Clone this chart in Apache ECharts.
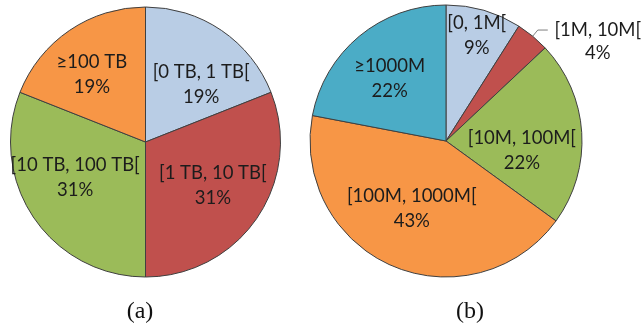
<!DOCTYPE html>
<html>
<head>
<meta charset="utf-8">
<script src="https://cdn.jsdelivr.net/npm/echarts@6/dist/echarts.min.js"></script>
<style>
  html, body { margin: 0; padding: 0; background: #ffffff; }
  #chart { width: 642px; height: 324px; }
</style>
</head>
<body>
<div id="chart"></div>
<script>
// (a) share by capacity range
const capacityCategories = ['[0 TB, 1 TB[', '[1 TB, 10 TB[', '[10 TB, 100 TB[', '≥100 TB'];
const capacityShares = [19, 31, 31, 19];

// (b) share by size range
const sizeCategories = ['[0, 1M[', '[1M, 10M[', '[10M, 100M[', '[100M, 1000M[', '≥1000M'];
const sizeShares = [9, 4, 22, 43, 22];

const panelCaptions = ['(a)', '(b)'];

// ---- styling / layout ----
const capacityColors = ['#B9CDE5', '#C0504D', '#9BBB59', '#F79646'];
const sizeColors = ['#B9CDE5', '#C0504D', '#9BBB59', '#F79646', '#4BACC6'];
const labelFont = 'Lato';
const labelSize = 18.5;
const labelLineHeight = 25;
const labelColor = '#1c1c1c';

// label nudges (px) applied on top of the default inside position
const capacityNudges = [[16, 1], [9, 4], [-12, -4], [-14, -9]];
const sizeNudges = [[11, -37], null, [5, 14], [-6, 2], [-11, -8]];
// slices whose label sits outside with a leader line
const sizeOutside = [false, true, false, false, false];

function nudgeLayout(nudges) {
  return function (p) {
    const n = nudges[p.dataIndex];
    if (!n) return {};
    const r = p.labelRect;
    return { x: r.x + r.width / 2 + n[0], y: r.y + r.height / 2 + n[1] };
  };
}

function buildData(names, values, colors, outside) {
  return names.map(function (name, i) {
    const item = { name: name, value: values[i], itemStyle: { color: colors[i] } };
    if (outside && outside[i]) {
      item.label = {
        position: 'outside',
        padding: [23, 0, 0, 0],
        formatter: '{c|' + name + '}\n{c|' + values[i] + '%}',
        rich: { c: { width: 90, align: 'center', lineHeight: 23, fontSize: labelSize, fontFamily: labelFont, color: labelColor } }
      };
      item.labelLine = { show: true, length: 8, length2: 10, lineStyle: { color: '#7f7f7f', width: 1 } };
    }
    return item;
  });
}

function pieSeries(center, radius, data, nudges) {
  return {
    type: 'pie',
    center: center,
    radius: radius,
    startAngle: 90,
    clockwise: true,
    avoidLabelOverlap: false,
    silent: true,
    animation: false,
    emphasis: { disabled: true },
    itemStyle: { borderColor: '#404040', borderWidth: 1 },
    label: {
      show: true,
      position: 'inside',
      formatter: '{b}\n{c}%',
      fontFamily: labelFont,
      fontSize: labelSize,
      lineHeight: labelLineHeight,
      color: labelColor
    },
    labelLine: { show: false },
    labelLayout: nudgeLayout(nudges),
    data: data
  };
}

const chart = echarts.init(document.getElementById('chart'), null, { renderer: 'canvas' });
chart.setOption({
  backgroundColor: '#ffffff',
  animation: false,
  series: [
    pieSeries([145.5, 142], 135, buildData(capacityCategories, capacityShares, capacityColors), capacityNudges),
    pieSeries([446, 141], 136, buildData(sizeCategories, sizeShares, sizeColors, sizeOutside), sizeNudges)
  ],
  graphic: [
    { type: 'text', x: 140, y: 312, style: { text: panelCaptions[0], font: '24px "Liberation Serif"', fill: '#111', textAlign: 'center', textVerticalAlign: 'middle' } },
    { type: 'text', x: 470, y: 312, style: { text: panelCaptions[1], font: '24px "Liberation Serif"', fill: '#111', textAlign: 'center', textVerticalAlign: 'middle' } }
  ]
});
</script>
</body>
</html>
